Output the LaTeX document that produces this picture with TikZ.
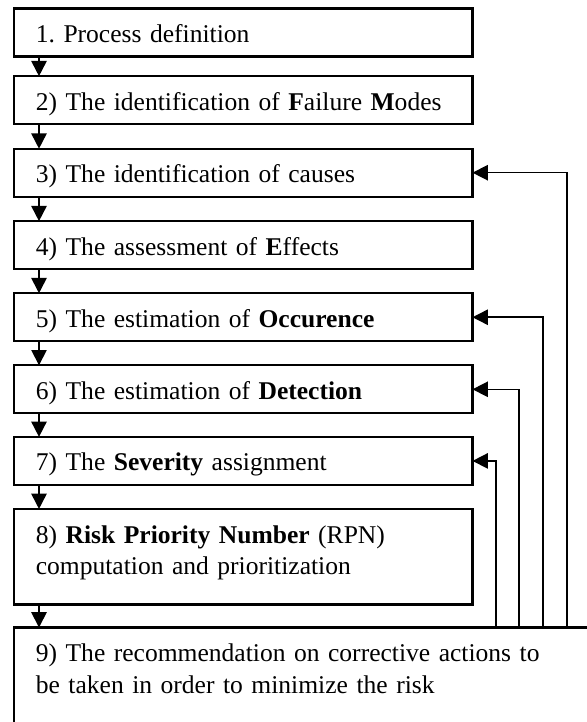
\documentclass[tikz,border=0pt]{standalone}
\usepackage{fontspec}
\setmainfont{Liberation Serif}
\frenchspacing
\usepackage{tikz}
\usetikzlibrary{arrows.meta, calc}
\tikzstyle{arrow} = [line width=0.8pt, -{Triangle[length=7pt, width=7pt]}]
\tikzstyle{back} = [line width=0.7pt, -{Triangle[length=7pt, width=7pt]}]
\tikzstyle{stage} = [rectangle, draw=black, line width=1pt, fill=white, text=black, anchor=north west, text width=190pt, align=left, inner xsep=10pt, inner ysep=0pt, outer sep=0pt, font=\fontsize{11.7}{14.5}\selectfont, execute at begin node={\rule{0pt}{15.6pt}}, execute at end node={\rule[-6.4pt]{0pt}{6.4pt}}]
\begin{document}
\begin{tikzpicture}[x=0.458pt, y=-0.458pt]
\useasboundingbox (0, 0) rectangle (587, 722);
\clip (0, 0) rectangle (587, 722);

\node (def) [stage] at (14, 8.5) {1. Process definition};
\node (modes) [stage, yshift=-9pt] at(def.south west) {2) The identification of \textbf{F}ailure \textbf{M}odes};
\node (causes) [stage, yshift=-11.2pt] at(modes.south west) {3) The identification of causes};
\node (effects) [stage, yshift=-11.2pt] at(causes.south west) {4) The assessment of \textbf{E}ffects};
\node (occ) [stage, yshift=-11pt] at(effects.south west) {5) The estimation of \textbf{Occurence}};
\node (det) [stage, yshift=-11pt] at(occ.south west) {6) The estimation of \textbf{Detection}};
\node (sev) [stage, yshift=-10.8pt] at(det.south west) {7) The \textbf{Severity} assignment};
\node (rpn) [stage, yshift=-11pt, execute at end node={\rule[-13.7pt]{0pt}{13.7pt}}] at(sev.south west) {8) \textbf{Risk Priority Number} (RPN)\\computation and prioritization};
\node (rec) [stage, text width=260pt, yshift=-10.5pt, execute at end node={\rule[-30pt]{0pt}{30pt}}] at(rpn.south west) {9) The recommendation on corrective actions to\\be taken in order to minimize the risk};

% straight chain down the left side
\draw [arrow] ($(def.south west) + (25, 0)$) -- ($(modes.north west) + (25, 0)$);
\draw [arrow] ($(modes.south west) + (25, 0)$) -- ($(causes.north west) + (25, 0)$);
\draw [arrow] ($(causes.south west) + (25, 0)$) -- ($(effects.north west) + (25, 0)$);
\draw [arrow] ($(effects.south west) + (25, 0)$) -- ($(occ.north west) + (25, 0)$);
\draw [arrow] ($(occ.south west) + (25, 0)$) -- ($(det.north west) + (25, 0)$);
\draw [arrow] ($(det.south west) + (25, 0)$) -- ($(sev.north west) + (25, 0)$);
\draw [arrow] ($(sev.south west) + (25, 0)$) -- ($(rpn.north west) + (25, 0)$);
\draw [arrow] ($(rpn.south west) + (25, 0)$) -- ($(rec.north west) + (25, 0)$);

% loops back from the recommendations
\draw [back] ($(rec.north west) + (553, 0)$) |- (causes.east);
\draw [back] ($(rec.north west) + (529, 0)$) |- (occ.east);
\draw [back] ($(rec.north west) + (505, 0)$) |- (det.east);
\draw [back] ($(rec.north west) + (482, 0)$) |- (sev.east);

\end{tikzpicture}
\end{document}
